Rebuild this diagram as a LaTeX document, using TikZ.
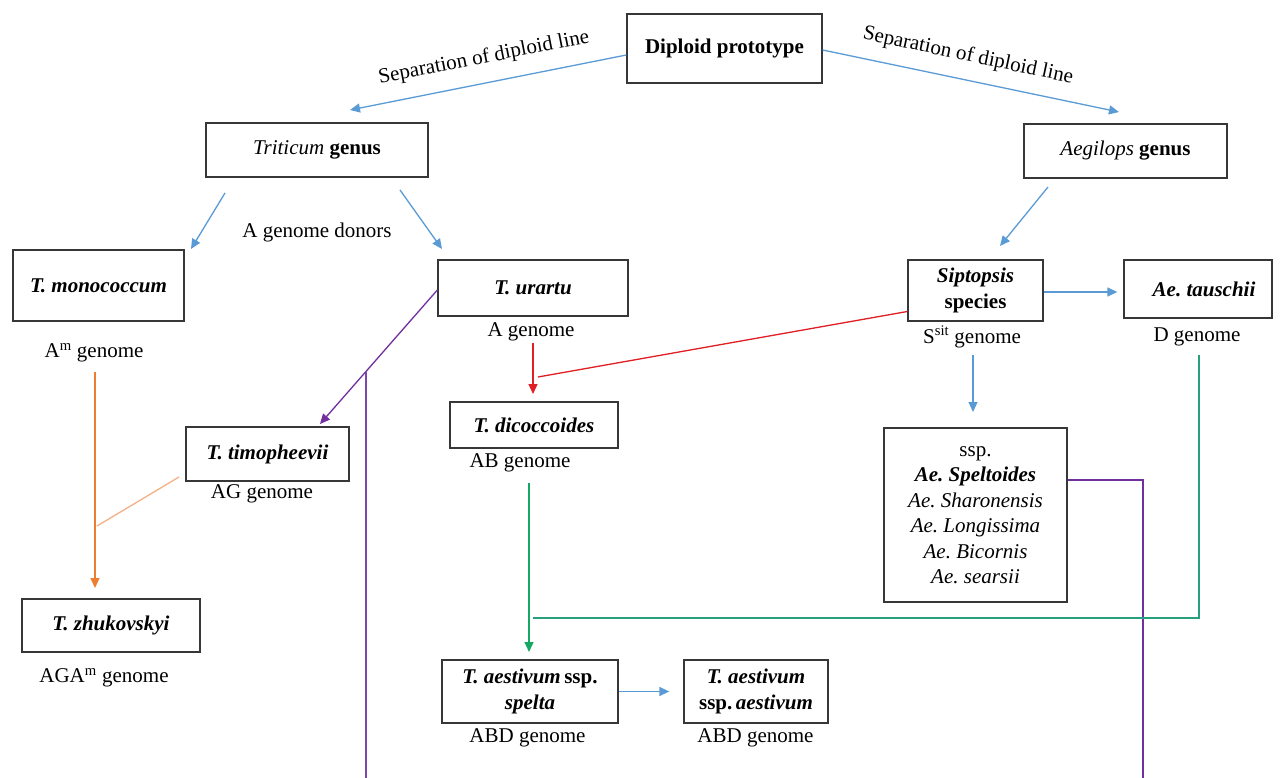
\documentclass[tikz,border=0pt]{standalone}
\usepackage{fontspec}
\setmainfont{Liberation Serif}
\usetikzlibrary{arrows.meta,calc}
\definecolor{cblue}{RGB}{91,155,213}
\definecolor{cred}{RGB}{225,30,35}
\definecolor{cpurple}{RGB}{112,48,160}
\definecolor{clpurple}{RGB}{125,70,175}
\definecolor{corange}{RGB}{237,125,49}
\definecolor{clorange}{RGB}{244,177,131}
\definecolor{cgreen}{RGB}{20,168,100}
\definecolor{cteal}{RGB}{40,160,125}
\definecolor{cbox}{RGB}{55,55,55}
\newcommand\fsz{\fontsize{21}{25.5}\selectfont}
\newcommand\bi[1]{\textbf{\textit{#1}}}
\frenchspacing
\begin{document}
\begin{tikzpicture}[x=1pt,y=-1pt,
  box/.style={draw=cbox, line width=1.3pt, align=center, inner sep=0pt, font=\fsz},
  lab/.style={inner sep=0pt, align=center, font=\fsz},
  con/.style={line width=1.3pt},
  tip/.style={-{Triangle[length=10pt,width=9pt]}}]
\useasboundingbox[fill=white] (0,0) rectangle (1283,778);

% boxes
\node[box, minimum width=195pt, minimum height=69pt] (dip) at (724.5,48.5) {\textbf{Diploid prototype}};
\node[box, minimum width=222pt, minimum height=54pt] (tri) at (317,150) {\textit{Triticum} \textbf{genus}};
\node[box, minimum width=203pt, minimum height=54pt] (aeg) at (1125.5,151) {\textit{Aegilops} \textbf{genus}};
\node[box, minimum width=171pt, minimum height=71pt] (mon) at (98.5,285.5) {\bi{T. monococcum}};
\node[box, minimum width=190pt, minimum height=56pt] (urt) at (533,288) {\bi{T. urartu}};
\node[box, minimum width=135pt, minimum height=61pt] (sip) at (975.5,290.5) {\bi{Siptopsis}\\\textbf{species}};
\node[box, minimum width=148pt, minimum height=58pt] (tau) at (1198,289) {\hspace*{12pt}\bi{Ae. tauschii}};
\node[box, minimum width=168pt, minimum height=46pt] (dic) at (534,425) {\bi{T. dicoccoides}};
\node[box, minimum width=163pt, minimum height=54pt] (tim) at (267.5,454) {\bi{T. timopheevii}};
\node[box, minimum width=183pt, minimum height=174pt] (ssp) at (975.5,515) {ssp.\\\bi{Ae. Speltoides}\\\textit{Ae. Sharonensis}\\\textit{Ae. Longissima}\\\textit{Ae. Bicornis}\\\textit{Ae. searsii}};
\node[box, minimum width=178pt, minimum height=53pt] (zhu) at (111,625.5) {\bi{T. zhukovskyi}};
\node[box, minimum width=176pt, minimum height=63pt] (spe) at (530,691.5) {\bi{T. aestivum}\,\textbf{ssp.}\\\bi{spelta}};
\node[box, minimum width=144pt, minimum height=63pt] (aes) at (756,691.5) {\bi{T. aestivum}\\\textbf{ssp.}\,\bi{aestivum}};

% labels
\node[lab, rotate=11] (sepL) at (484,58) {Separation of diploid line};
\node[lab, rotate=-12] (sepR) at (968,56) {Separation of diploid line};
\node[lab] (don) at (317,232) {A genome donors};
\node[lab] (gAm) at (94,353) {A\textsuperscript{m} genome};
\node[lab] (gA) at (531,332) {A genome};
\node[lab] (gS) at (972,337) {S\textsuperscript{sit} genome};
\node[lab] (gD) at (1197,337) {D genome};
\node[lab] (gAB) at (520,463) {AB genome};
\node[lab] (gAG) at (262,494) {AG genome};
\node[lab] (gAGA) at (104,678) {AGA\textsuperscript{m} genome};
\node[lab] (gABD1) at (527.5,738) {ABD genome};
\node[lab] (gABD2) at (755.5,738) {ABD genome};

% free ends
\coordinate (triTip) at (350,110);
\coordinate (aegTip) at (1119,112);
\coordinate (tmS) at (225,193);
\coordinate (tmT) at (191,249);
\coordinate (tuS) at (400,190);
\coordinate (tuT) at (442,249);
\coordinate (asS) at (1048,187);
\coordinate (asT) at (1000,246);
\coordinate (ssS) at (973,355);
\coordinate (ssT) at (973,412);
\coordinate (rdS) at (533,343);
\coordinate (rdT) at (533,394);
\coordinate (rdJ) at (538,377);
\coordinate (puT) at (320,424);
\coordinate (orS) at (95,372);
\coordinate (orT) at (95,588);
\coordinate (loS) at (179,477);
\coordinate (loT) at (97,526);
\coordinate (grS) at (529,483);
\coordinate (grT) at (529,652);
\coordinate (teS) at (533,618);
\coordinate (teC) at (1199,618);
\coordinate (teT) at (1199,355);
\coordinate (prC) at (1143,480);
\coordinate (bot) at (0,778);

% blue connectors
\draw[con,cblue,tip] ([yshift=-6.5pt]dip.west) -- (triTip);
\draw[con,cblue,tip] ([yshift=-1.5pt]dip.east) -- (aegTip);
\draw[con,cblue,tip] (tmS) -- (tmT);
\draw[con,cblue,tip] (tuS) -- (tuT);
\draw[con,cblue,tip] (asS) -- (asT);
\draw[con,cblue,tip] ([yshift=-1.5pt]sip.east) -- ([xshift=-6pt,yshift=-3pt]tau.west);
\draw[con,cblue,tip] (ssS) -- (ssT);
\draw[con,cblue,tip,line width=1.5pt] (spe.east) -- ([xshift=-14pt]aes.west);

% red
\draw[con,cred,tip] (rdS) -- (rdT);
\draw[con,cred] ([yshift=-21pt]sip.west) -- (rdJ);

% purple
\draw[con,cpurple,tip] ([yshift=-2pt]urt.west) -- (puT);
\coordinate (puJ) at ($([yshift=-2pt]urt.west)!0.606!(puT)$);
\draw[clpurple,line width=1.6pt] (puJ) -- (puJ |- bot);
\draw[con,cpurple] (ssp.east |- prC) -- (prC) -- (prC |- bot);

% orange
\draw[con,corange,tip] (orS) -- (orT);
\draw[con,clorange] (loS) -- (loT);

% green
\draw[con,cgreen,tip] (grS) -- (grT);
\draw[con,cteal] (teS) -- (teC) -- (teT);
\end{tikzpicture}
\end{document}
